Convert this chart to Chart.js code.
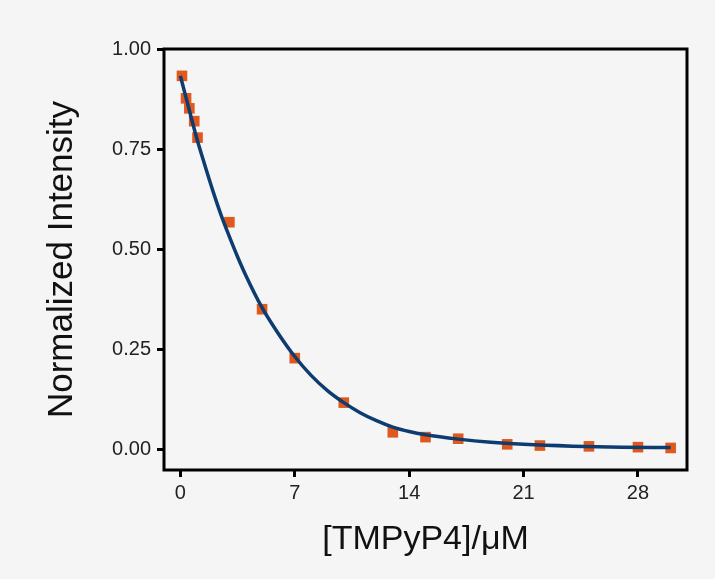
<!DOCTYPE html>
<html>
<head>
<meta charset="utf-8">
<script src="https://cdn.jsdelivr.net/npm/chart.js@4/dist/chart.umd.min.js"></script>
<style>
  html, body { margin: 0; padding: 0; background: #f5f5f5; }
  #wrap { width: 715px; height: 579px; }
</style>
</head>
<body>
<div id="wrap"><canvas id="myChart" width="715" height="579"></canvas></div>
<script>
// measured points
const concX = [0.1, 0.35, 0.55, 0.85, 1.05, 3, 5, 7, 10, 13, 15, 17, 20, 22, 25, 28, 30];
const intensity = [0.933, 0.877, 0.852, 0.82, 0.779, 0.568, 0.351, 0.229, 0.118, 0.044, 0.032, 0.028, 0.014, 0.011, 0.009, 0.007, 0.005];

// fitted curve
const fitX = [0, 0.5, 1, 1.5, 2, 2.5, 3, 3.5, 4, 5, 6, 7, 8, 9, 10, 11, 12, 13, 14, 15, 17, 19, 21, 24, 27, 30];
const fitY = [0.933, 0.855, 0.778, 0.71, 0.645, 0.585, 0.532, 0.482, 0.436, 0.355, 0.29, 0.233, 0.186, 0.148, 0.118, 0.093, 0.073, 0.057, 0.046, 0.038, 0.027, 0.019, 0.014, 0.0095, 0.007, 0.006];

const xTicks = [0, 7, 14, 21, 28];
const yTicks = [0, 0.25, 0.5, 0.75, 1.0];

const frame = {
  id: 'frame',
  afterDatasetsDraw(chart) {
    const { ctx, chartArea: a } = chart;
    ctx.save();
    ctx.strokeStyle = '#000';
    ctx.lineWidth = 3;
    ctx.strokeRect(a.left, a.top, a.right - a.left, a.bottom - a.top);
    ctx.restore();
  }
};

const ctx = document.getElementById('myChart').getContext('2d');
new Chart(ctx, {
  type: 'scatter',
  data: {
    datasets: [{
      label: 'Fit',
      data: fitX.map((x, i) => ({ x: x, y: fitY[i] })),
      showLine: true,
      borderColor: '#0d3c70',
      borderWidth: 3.5,
      pointRadius: 0,
      cubicInterpolationMode: 'monotone',
      order: 0
    },
    {
      label: 'Data',
      data: concX.map((x, i) => ({ x: x, y: intensity[i] })),
      pointStyle: 'rect',
      pointRadius: 7.5,
      backgroundColor: '#e1581c',
      borderColor: '#e1581c',
      borderWidth: 0,
      order: 1
    }]
  },
  options: {
    responsive: false,
    animation: false,
    layout: { padding: { left: 0, top: 49, right: 28, bottom: 0 } },
    plugins: {
      legend: { display: false },
      tooltip: { enabled: false }
    },
    scales: {
      x: {
        type: 'linear',
        min: -1,
        max: 31,
        afterFit: (s) => { s.height = 109; },
        afterBuildTicks: (s) => { s.ticks = xTicks.map(v => ({ value: v })); },
        grid: { drawOnChartArea: false, drawTicks: true, tickLength: 7, tickWidth: 3, tickColor: '#000' },
        border: { display: false },
        ticks: {
          padding: 4,
          color: '#222',
          font: { family: 'Liberation Sans, Arial', size: 20 },
          callback: (v) => String(v)
        },
        title: {
          display: true,
          text: '[TMPyP4]/μM',
          color: '#111',
          font: { family: 'Liberation Sans, Arial', size: 34 },
          padding: { top: 0, bottom: 19 }
        }
      },
      y: {
        type: 'linear',
        min: -0.05,
        max: 1.0,
        afterFit: (s) => { s.width = 164; },
        afterBuildTicks: (s) => { s.ticks = yTicks.map(v => ({ value: v })); },
        grid: { drawOnChartArea: false, drawTicks: true, tickLength: 7, tickWidth: 3, tickColor: '#000' },
        border: { display: false },
        ticks: {
          padding: 6,
          color: '#222',
          font: { family: 'Liberation Sans, Arial', size: 20 },
          callback: (v) => v.toFixed(2)
        },
        title: {
          display: true,
          text: 'Normalized Intensity',
          color: '#111',
          font: { family: 'Liberation Sans, Arial', size: 35 },
          padding: { top: 41, bottom: 0 }
        }
      }
    }
  },
  plugins: [frame]
});
</script>
</body>
</html>
